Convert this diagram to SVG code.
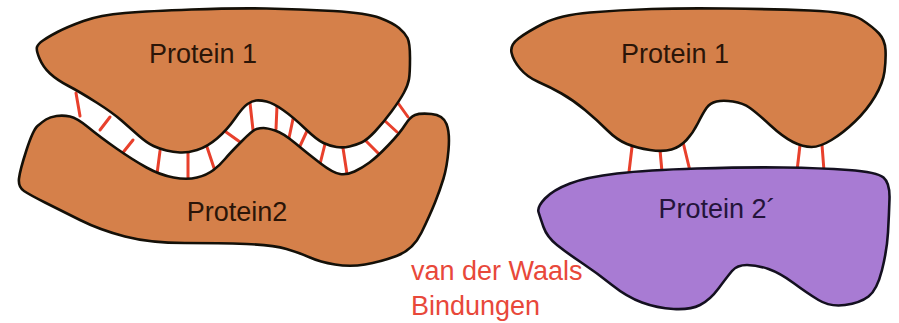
<svg xmlns="http://www.w3.org/2000/svg" width="899" height="323" viewBox="0 0 899 323">
  <style>
    .orange { fill: #d5804a; stroke: #141008; stroke-width: 2.6; stroke-linejoin: round; }
    .purple { fill: #a87bd3; stroke: #141020; stroke-width: 2.6; stroke-linejoin: round; }
    .bond { stroke: #e8402c; stroke-width: 3; stroke-linecap: round; fill: none; }
    .label { font-family: "Liberation Sans", Arial, sans-serif; font-size: 27px; fill: #2b1508; }
    .label2 { font-family: "Liberation Sans", Arial, sans-serif; font-size: 27px; fill: #24143a; }
    .note { font-family: "Liberation Sans", Arial, sans-serif; font-size: 27px; fill: #e8483a; }
  </style>
  <rect width="899" height="323" fill="#ffffff"/>

  <!-- bonds: many along the fitted surfaces on the left, few at the loose contact on the right -->
  <g id="connectors">
    <line class="bond" x1="76" y1="93" x2="80" y2="116"/>
    <line class="bond" x1="110" y1="117" x2="100" y2="130"/>
    <line class="bond" x1="133" y1="140" x2="121" y2="155"/>
    <line class="bond" x1="160" y1="151" x2="157" y2="174"/>
    <line class="bond" x1="188" y1="153" x2="188" y2="179"/>
    <line class="bond" x1="207" y1="147" x2="214" y2="168"/>
    <line class="bond" x1="226" y1="132" x2="240" y2="142"/>
    <line class="bond" x1="250" y1="103" x2="253" y2="130"/>
    <line class="bond" x1="277" y1="106" x2="276" y2="129"/>
    <line class="bond" x1="293" y1="119" x2="289" y2="138"/>
    <line class="bond" x1="307" y1="131" x2="300" y2="146"/>
    <line class="bond" x1="325" y1="144" x2="320" y2="164"/>
    <line class="bond" x1="343" y1="148" x2="347" y2="174"/>
    <line class="bond" x1="365" y1="140" x2="378" y2="153"/>
    <line class="bond" x1="385" y1="121" x2="397" y2="132"/>
    <line class="bond" x1="398" y1="103" x2="408" y2="117"/>

    <line class="bond" x1="632" y1="147" x2="629" y2="172"/>
    <line class="bond" x1="660" y1="150" x2="662" y2="172"/>
    <line class="bond" x1="683" y1="142" x2="690" y2="171"/>
    <line class="bond" x1="800" y1="145" x2="797" y2="171"/>
    <line class="bond" x1="822" y1="145" x2="824" y2="171"/>
  </g>

  <g id="protein1-left">
    <path class="orange" d="M37,47 Q36,50 39.5,58.5 Q43,67 50,73.5 Q57,80 68.5,86 Q80,92 96.5,102.5 Q113,113 121.5,120.5 Q130,128 138.5,135.5 Q147,143 153.5,146 Q160,149 166.5,150.5 Q173,152 180,152.5 Q187,153 197,150 Q207,147 217,138.5 Q227,130 235,118.5 Q243,107 247.5,104 Q252,101 256,100.5 Q260,100 266.5,101.5 Q273,103 283,110 Q293,117 305,128.5 Q317,140 323.5,143 Q330,146 336.5,147 Q343,148 349.5,146.5 Q356,145 361.5,142.5 Q367,140 375,131.5 Q383,123 391.5,111.5 Q400,100 404,92.5 Q408,85 409,79 Q410,73 410,58 Q410,43 407.5,38 Q405,33 399,28 Q393,23 380,18 Q367,13 333.5,11 Q300,9 266.5,8.5 Q233,8 191.5,9.5 Q150,11 125,13 Q100,15 83.5,21 Q67,27 57.5,32 Q48,37 43,40.5 Q38,44 37,47 Z"/>
    <text class="label" x="203" y="63" text-anchor="middle">Protein 1</text>
  </g>

  <g id="protein2-left">
    <path class="orange" d="M24,191 Q18,187 19,178.5 Q20,170 26.5,150 Q33,130 37.5,126 Q42,122 46,119.5 Q50,117 56.5,116 Q63,115 70,116.5 Q77,118 88.5,127.5 Q100,137 116.5,148.5 Q133,160 146.5,167.5 Q160,175 173.5,177.5 Q187,180 197,177.5 Q207,175 213.5,170 Q220,165 225,159 Q230,153 241.5,141.5 Q253,130 256.5,129 Q260,128 263.5,128 Q267,128 275,130.5 Q283,133 295,143 Q307,153 320,163 Q333,173 340,174 Q347,175 354.5,171.5 Q362,168 369.5,162.5 Q377,157 388.5,145 Q400,133 405,125 Q410,117 415,115 Q420,113 431.5,114 Q443,115 446.5,124 Q450,133 448.5,150 Q447,167 443.5,178.5 Q440,190 435,202.5 Q430,215 421.5,232.5 Q413,250 396.5,256 Q380,262 365,264.5 Q350,267 335,264.5 Q320,262 310,257.5 Q300,253 286.5,249 Q273,245 246.5,244 Q220,243 185,243 Q150,243 125,236.5 Q100,230 80,220 Q60,210 45,202.5 Q30,195 24,191 Z"/>
    <text class="label" x="237" y="221" text-anchor="middle">Protein2</text>
  </g>

  <g id="protein1-right">
    <path class="orange" d="M511.5,52.5 Q510,45 518.5,38.5 Q527,32 543.5,23.5 Q560,15 590,12.5 Q620,10 651.5,9 Q683,8 726.5,8.5 Q770,9 810,10.5 Q850,12 861.5,19.5 Q873,27 879,33.5 Q885,40 885.5,50 Q886,60 884.5,71.5 Q883,83 875,96.5 Q867,110 855,121.5 Q843,133 831.5,140 Q820,147 811.5,147 Q803,147 793,142 Q783,137 770,125 Q757,113 750,108 Q743,103 733,101.5 Q723,100 716.5,101.5 Q710,103 706.5,108 Q703,113 698,123 Q693,133 686.5,140 Q680,147 671.5,149.5 Q663,152 650,150 Q637,148 627,144 Q617,140 607,130 Q597,120 585,110 Q573,100 561.5,93.5 Q550,87 538.5,82 Q527,77 520,68.5 Q513,60 511.5,52.5 Z"/>
    <text class="label" x="675" y="63" text-anchor="middle">Protein 1</text>
  </g>

  <g id="protein2-right">
    <path class="purple" d="M538.5,212 Q537,207 545,198.5 Q553,190 570,183.5 Q587,177 617,173.5 Q647,170 697,168.5 Q747,167 783.5,167.5 Q820,168 848.5,170 Q877,172 883.5,177.5 Q890,183 889.5,199 Q889,215 888,232.5 Q887,250 882,270 Q877,290 868.5,296.5 Q860,303 845,305 Q830,307 818.5,300 Q807,293 793.5,283 Q780,273 768.5,269 Q757,265 747,265 Q737,265 732,271 Q727,277 718.5,288.5 Q710,300 700,305 Q690,310 673.5,309 Q657,308 642,302.5 Q627,297 612,285 Q597,273 582,263 Q567,253 557,245 Q547,237 543.5,227 Q540,217 538.5,212 Z"/>
    <text class="label2" x="717" y="218" text-anchor="middle">Protein 2´</text>
  </g>

  <g id="caption">
    <text class="note" x="411" y="280">van der Waals</text>
    <text class="note" x="411" y="315">Bindungen</text>
  </g>
</svg>
